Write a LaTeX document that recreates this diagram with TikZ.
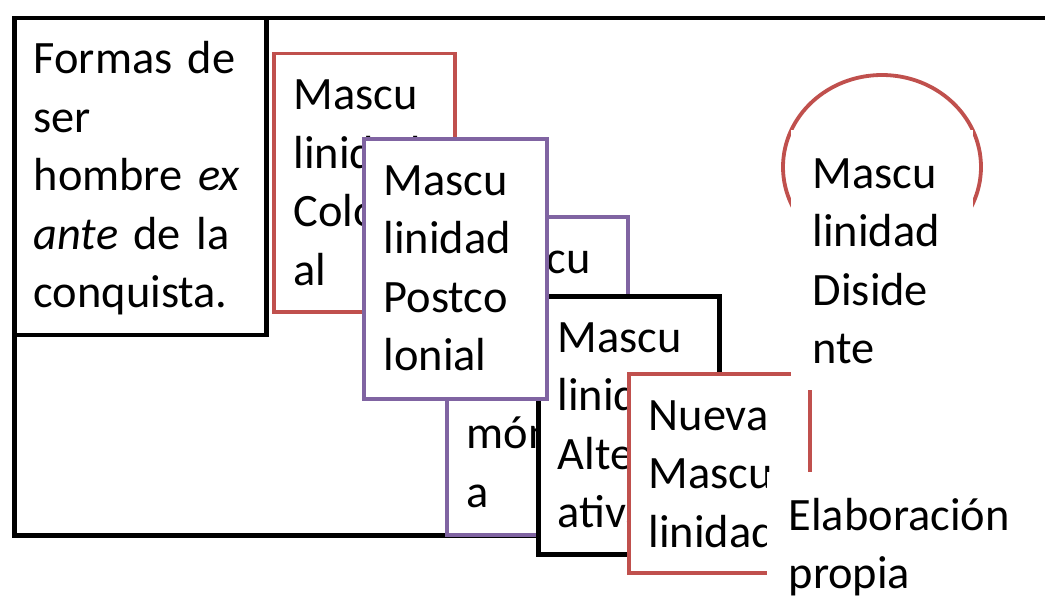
\documentclass[tikz,border=0pt]{standalone}
\usepackage{fontspec}
\setmainfont{Carlito}
\usetikzlibrary{shapes.geometric}
\definecolor{cred}{HTML}{C0504D}
\definecolor{cpurple}{HTML}{8064A2}
\newcommand{\jline}[1]{\makebox[206pt][s]{#1}}
\begin{document}
\begin{tikzpicture}[x=1pt,y=-1pt,
  boxstyle/.style={rectangle, inner sep=0pt, fill=white, anchor=north west},
  blackbox/.style={boxstyle, draw=black, line width=4.5pt},
  redbox/.style={boxstyle, draw=cred, line width=3.8pt},
  purplebox/.style={boxstyle, draw=cpurple, line width=3.8pt},
  whitebox/.style={boxstyle, draw=none},
  txt/.style={anchor=north west, inner sep=0pt, text width=#1, align=left,
    font=\fontsize{46.4}{58.5}\selectfont},
  txt/.default=200pt,
  tshift/.style={shift={(21.5,18)}}
]
\useasboundingbox (0,0) rectangle (1045,597);
\begin{scope}
\clip (0,0) rectangle (1045,597);
% outer frame
\node[blackbox, minimum width=1100pt, minimum height=517.5pt] (frame) at (12,15.5) {};
% Formas de ser hombre
\node[blackbox, minimum width=252pt, minimum height=317pt] (formas) at (12,15.5) {};
\node[txt=240pt] (formasT) at ([tshift]formas.north west)
  {\noindent\rule{0pt}{40pt}\jline{Formas de}\\ser\\\jline{hombre \textit{ex}}\\\jline{\textit{ante} de la}\\conquista.};
% Colonial
\node[redbox, minimum width=181pt, minimum height=258.5pt] (colonial) at (272,51.5) {};
\node[txt] (colonialT) at ([tshift]colonial.north west)
  {\noindent\rule{0pt}{40pt}Mascu\\linidad\\Coloni\\al};
% Hegemonica
\node[purplebox, minimum width=181pt, minimum height=318pt] (hegem) at (445,215) {};
\node[txt] (hegemT) at ([tshift]hegem.north west)
  {\noindent\rule{0pt}{40pt}Mascu\\linidad\\Hege\\mónic\\a};
% Alternativa
\node[blackbox, minimum width=181pt, minimum height=258pt] (altern) at (536,294) {};
\node[txt] (alternT) at ([tshift]altern.north west)
  {\noindent\rule{0pt}{40pt}Mascu\\linidad\\Altern\\ativa};
% Postcolonial
\node[purplebox, minimum width=183pt, minimum height=260pt] (postcol) at (362,137) {};
\node[txt] (postcolT) at ([tshift]postcol.north west)
  {\noindent\rule{0pt}{40pt}Mascu\\linidad\\Postco\\lonial};
% Nueva
\node[redbox, minimum width=181pt, minimum height=199pt] (nueva) at (627,372) {};
\node[txt] (nuevaT) at ([tshift]nueva.north west)
  {\noindent\rule{0pt}{40pt}Nueva\\Mascu\\linidad};
% Disidente
\node[ellipse, draw=cred, line width=3.8pt, fill=white, inner sep=0pt,
  minimum width=198pt, minimum height=184pt] (disC) at (882,167) {};
\node[whitebox, minimum width=182pt, minimum height=260pt] (disid) at (791,130) {};
\node[txt] (disidT) at ([tshift]disid.north west)
  {\noindent\rule{0pt}{40pt}Mascu\\linidad\\Diside\\nte};
% Elaboracion propia
\node[whitebox, minimum width=300pt, minimum height=150pt] (elab) at (767,472) {};
\node[txt=260pt] (elabT) at ([tshift]elab.north west)
  {\noindent\rule{0pt}{40pt}Elaboración\\propia};
\end{scope}
\end{tikzpicture}
\end{document}
